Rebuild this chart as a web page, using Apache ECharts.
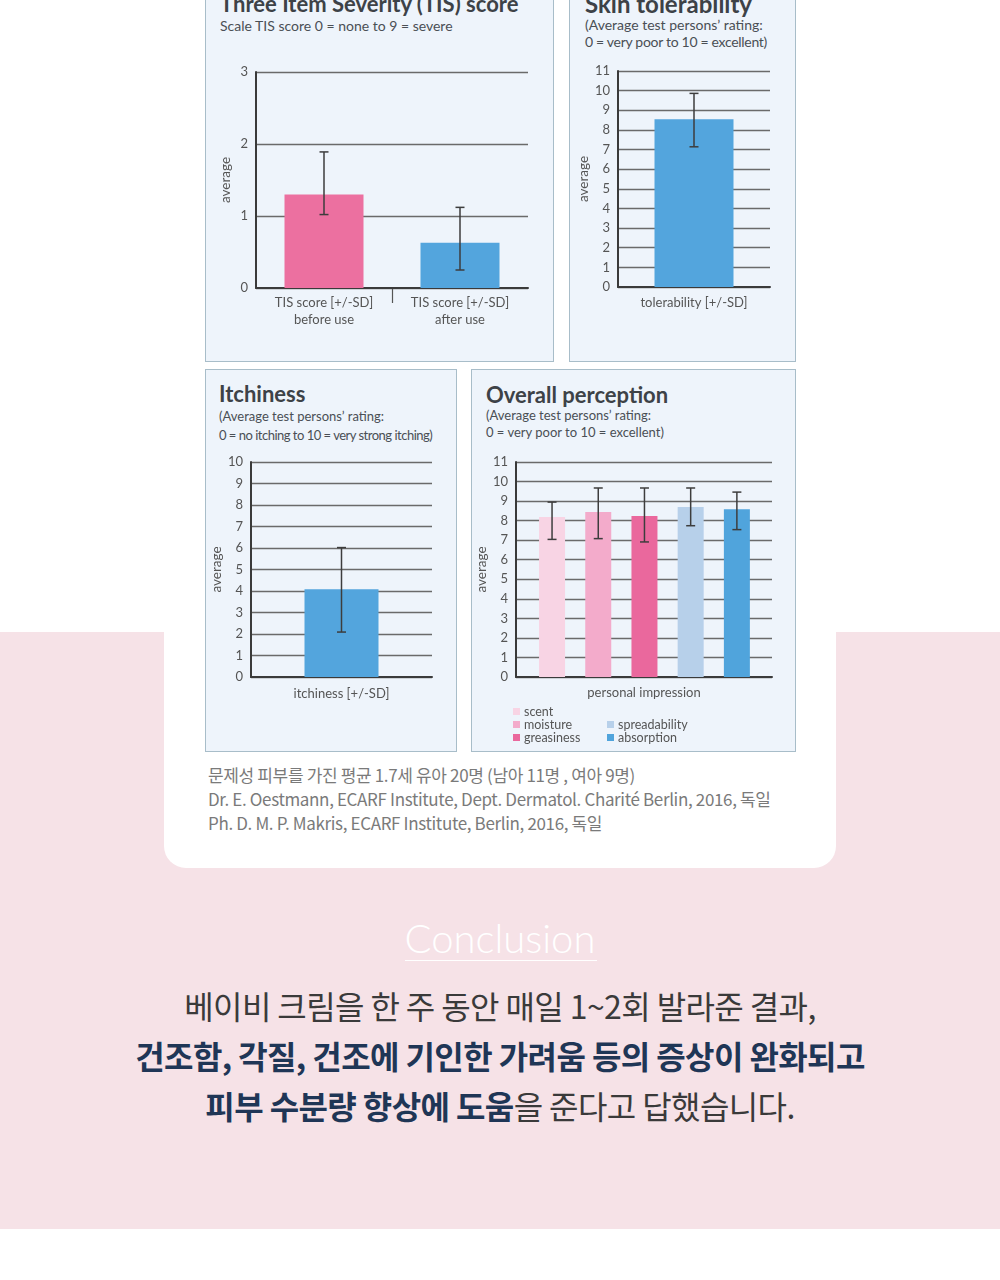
<!DOCTYPE html>
<html>
<head>
<meta charset="utf-8">
<script src="https://cdn.jsdelivr.net/npm/echarts@6/dist/echarts.min.js"></script>
<style>
  body { margin: 0; width: 1000px; height: 1280px; position: relative; overflow: hidden; background: #fff; font-family: Lato, "Noto Sans CJK KR", sans-serif; }
  .band { position: absolute; left: 0; top: 632px; width: 1000px; height: 597px; background: #f6e2e7; }
  .card { position: absolute; left: 164px; top: -40px; width: 672px; height: 908px; background: #fff; border-radius: 22px; }
  .panel { position: absolute; background: #eef4fb; border: 1.5px solid #a8bdc9; box-sizing: border-box; }
  .t { position: absolute; white-space: nowrap; color: #3d4247; }
  .h { font-weight: 700; font-size: 22px; line-height: 24px; }
  .s { font-size: 13px; color: #4a4f55; }
  .note { position: absolute; left: 208px; top: 763px; font-family: "Noto Sans CJK KR", sans-serif; font-size: 17px; line-height: 24px; color: #7a7a7a; letter-spacing: -0.35px; }
  .concl { position: absolute; left: 0; width: 1000px; text-align: center; font-family: "Noto Sans CJK KR", sans-serif; }
  .concl b { color: #1f3656; }
  #chart { position: absolute; left: 0; top: 0; width: 1000px; height: 1280px; }
</style>
</head>
<body>
<div class="band"></div>
<div class="card"></div>

<div class="panel" style="left:205px;top:-10px;width:349px;height:372px"></div>
<div class="panel" style="left:569px;top:-10px;width:227px;height:372px"></div>
<div class="panel" style="left:205px;top:369px;width:252px;height:383px"></div>
<div class="panel" style="left:471px;top:369px;width:325px;height:383px"></div>

<div class="t h" style="left:220px;top:-8px">Three Item Severity (TIS) score</div>
<div class="t s" style="left:220px;top:18px;line-height:16px;font-size:14px">Scale TIS score 0 = none to 9 = severe</div>

<div class="t h" style="left:585px;top:-8px;font-size:24px">Skin tolerability</div>
<div class="t s" style="left:585px;top:16px;line-height:17px;font-size:14px">(Average test persons’ rating:<br><span style="letter-spacing:-0.3px">0 = very poor to 10 = excellent)</span></div>

<div class="t h" style="left:219px;top:382px">Itchiness</div>
<div class="t s" style="left:219px;top:407px;line-height:18.5px">(Average test persons’ rating:<br><span style="letter-spacing:-0.5px">0 = no itching to 10 = very strong itching)</span></div>

<div class="t h" style="left:486px;top:383px">Overall perception</div>
<div class="t s" style="left:486px;top:407px;line-height:17px">(Average test persons’ rating:<br>0 = very poor to 10 = excellent)</div>

<div class="note">문제성 피부를 가진 평균 1.7세 유아 20명 (남아 11명 , 여아 9명)<br>Dr. E. Oestmann, ECARF Institute, Dept. Dermatol. Charité Berlin, 2016, 독일<br>Ph. D. M. P. Makris, ECARF Institute, Berlin, 2016, 독일</div>

<div class="concl" style="top:914px;font-family:Lato,sans-serif;font-weight:300;font-size:40px;line-height:48px;color:#fff">Conclusion</div>
<div style="position:absolute;left:405px;top:960px;width:192px;height:1px;background:#fff"></div>
<div class="concl" style="top:980px;font-size:32px;line-height:50px;color:#3a3a3a;letter-spacing:-0.6px">
  베이비 크림을 한 주 동안 매일 1~2회 발라준 결과,<br>
  <b>건조함, 각질, 건조에 기인한 가려움 등의 증상이 완화되고</b><br>
  <b>피부 수분량 향상에 도움</b>을 준다고 답했습니다.
</div>

<div id="chart"></div>

<script>
// TIS score
const tisCategories = ['TIS score [+/-SD]\nbefore use', 'TIS score [+/-SD]\nafter use'];
const tisMeans = [1.30, 0.63];
const tisLow = [1.02, 0.25];
const tisHigh = [1.89, 1.12];

// skin tolerability
const tolCategories = ['tolerability [+/-SD]'];
const tolMeans = [8.54];
const tolLow = [7.14];
const tolHigh = [9.86];

// itchiness
const itchCategories = ['itchiness [+/-SD]'];
const itchMeans = [4.08];
const itchLow = [2.09];
const itchHigh = [6.02];

// overall perception
const perceptionNames = ['scent', 'moisture', 'greasiness', 'spreadability', 'absorption'];
const perceptionMeans = [8.18, 8.44, 8.24, 8.70, 8.58];
const perceptionLow = [7.04, 7.08, 6.91, 7.74, 7.54];
const perceptionHigh = [8.95, 9.67, 9.67, 9.67, 9.46];

const PINK = '#ec70a0';
const BLUE = '#53a5dd';
const perceptionColors = ['#f8d4e4', '#f3abcb', '#ea689d', '#b7d0ea', '#50a4dc'];

const chart = echarts.init(document.getElementById('chart'));

const labelStyle = { color: '#555', fontSize: 13, fontFamily: 'Lato' };

function valueAxis(gridIndex, max) {
  return {
    type: 'value', gridIndex, min: 0, max, interval: 1,
    name: 'average', nameLocation: 'middle', nameGap: 23,
    nameTextStyle: { color: '#555', fontSize: 13.5, fontFamily: 'Lato' },
    axisLine: { show: true, onZero: false, lineStyle: { color: '#3a3a3a', width: 2 } },
    axisTick: { show: false },
    axisLabel: Object.assign({ margin: 8 }, labelStyle),
    splitLine: { lineStyle: { color: '#6a6a6a', width: 1.3 } }
  };
}

function categoryAxis(gridIndex, data, margin) {
  return {
    type: 'category', gridIndex, data,
    axisLine: { lineStyle: { color: '#3a3a3a', width: 2 } },
    axisTick: { show: false },
    axisLabel: Object.assign({ margin, lineHeight: 17 }, labelStyle)
  };
}

function errorSeries(axisIndex, low, high) {
  return {
    type: 'custom', xAxisIndex: axisIndex, yAxisIndex: axisIndex, z: 5,
    data: low.map((l, i) => [i, l, high[i]]),
    renderItem(params, api) {
      const x = api.value(0);
      const lo = api.coord([x, api.value(1)]);
      const hi = api.coord([x, api.value(2)]);
      const c = 4.5;
      const st = { stroke: '#3d3d3d', lineWidth: 1.5 };
      return {
        type: 'group',
        children: [
          { type: 'line', shape: { x1: hi[0], y1: hi[1], x2: lo[0], y2: lo[1] }, style: st },
          { type: 'line', shape: { x1: hi[0] - c, y1: hi[1], x2: hi[0] + c, y2: hi[1] }, style: st },
          { type: 'line', shape: { x1: lo[0] - c, y1: lo[1], x2: lo[0] + c, y2: lo[1] }, style: st }
        ]
      };
    }
  };
}

const perceptionX = {
  type: 'value', gridIndex: 3, min: -0.78, max: 4.76,
  name: 'personal impression', nameLocation: 'middle', nameGap: 9,
  nameTextStyle: labelStyle,
  axisLine: { show: true, onZero: false, lineStyle: { color: '#3a3a3a', width: 2 } },
  axisTick: { show: false }, axisLabel: { show: false }, splitLine: { show: false }
};

const legendBase = {
  orient: 'vertical', icon: 'rect', itemWidth: 7, itemHeight: 7, itemGap: 0, padding: 0,
  selectedMode: false,
  textStyle: { color: '#555', fontSize: 12.5, lineHeight: 13, fontFamily: 'Lato', padding: [0, 0, 0, -1] }
};

chart.setOption({
  animation: false,
  grid: [
    { left: 256, top: 72, width: 272, height: 216 },
    { left: 618, top: 71, width: 152, height: 216 },
    { left: 251, top: 462, width: 181, height: 215 },
    { left: 516, top: 462, width: 256, height: 215 }
  ],
  xAxis: [
    categoryAxis(0, tisCategories, 6),
    categoryAxis(1, tolCategories, 7),
    categoryAxis(2, itchCategories, 8),
    perceptionX
  ],
  yAxis: [valueAxis(0, 3), valueAxis(1, 11), valueAxis(2, 10), valueAxis(3, 11)],
  legend: [
    Object.assign({ left: 513, top: 705, data: perceptionNames.slice(0, 3) }, legendBase),
    Object.assign({ left: 607, top: 718, data: perceptionNames.slice(3) }, legendBase)
  ],
  series: [
    {
      type: 'bar', xAxisIndex: 0, yAxisIndex: 0, barWidth: 79,
      data: tisMeans.map((v, i) => ({ value: v, itemStyle: { color: i === 0 ? PINK : BLUE } }))
    },
    errorSeries(0, tisLow, tisHigh),
    { type: 'bar', xAxisIndex: 1, yAxisIndex: 1, barWidth: 79, itemStyle: { color: BLUE }, data: tolMeans },
    errorSeries(1, tolLow, tolHigh),
    { type: 'bar', xAxisIndex: 2, yAxisIndex: 2, barWidth: 74, itemStyle: { color: BLUE }, data: itchMeans },
    errorSeries(2, itchLow, itchHigh),
    ...perceptionNames.map((name, i) => ({
      type: 'bar', name, xAxisIndex: 3, yAxisIndex: 3, barWidth: 26, barGap: '-100%',
      itemStyle: { color: perceptionColors[i] },
      data: [[i, perceptionMeans[i]]]
    })),
    errorSeries(3, perceptionLow, perceptionHigh)
  ]
});

// separator tick between the two TIS categories, placed from the axis scale
const x0 = chart.convertToPixel({ xAxisIndex: 0 }, tisCategories[0]);
const x1 = chart.convertToPixel({ xAxisIndex: 0 }, tisCategories[1]);
const yBase = chart.convertToPixel({ yAxisIndex: 0 }, 0);
const sepX = Math.round((x0 + x1) / 2) + 0.5;
chart.setOption({
  graphic: [{
    type: 'line', silent: true,
    shape: { x1: sepX, y1: yBase, x2: sepX, y2: yBase + 15 },
    style: { stroke: '#555', lineWidth: 1.2 }
  }]
});
</script>
</body>
</html>
